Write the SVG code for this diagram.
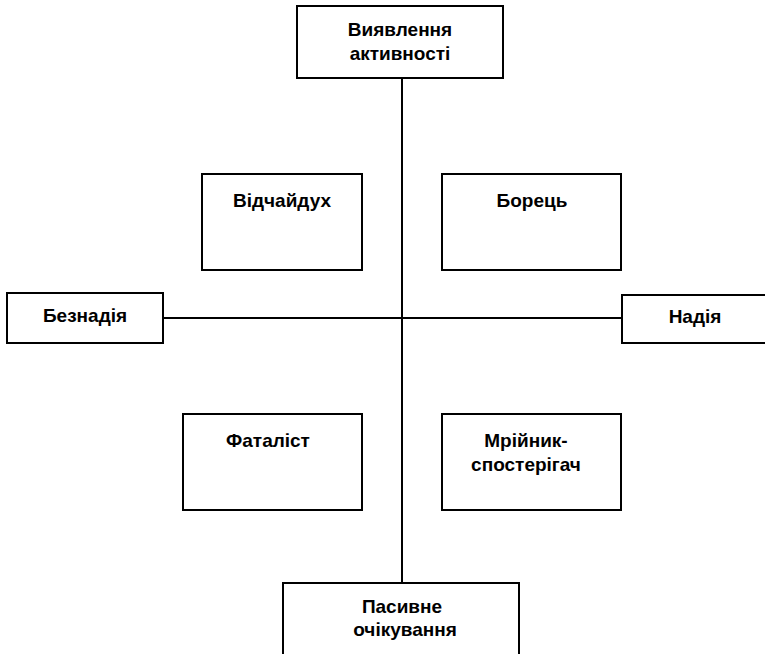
<svg xmlns="http://www.w3.org/2000/svg" width="765" height="654" viewBox="0 0 765 654">
<style>
.box{fill:#fff;stroke:#000;stroke-width:2}
.ln{stroke:#000;stroke-width:2;fill:none}
text{font-family:"Liberation Sans","DejaVu Sans",sans-serif;font-weight:bold;font-size:19px;fill:#000;text-anchor:middle}
</style>
<rect width="765" height="654" fill="#fff"/>
<g id="connectors">
<line class="ln" x1="402" y1="78" x2="402" y2="583"/>
<line class="ln" x1="163" y1="318" x2="622" y2="318"/>
</g>
<g id="n-activity">
<rect class="box" x="297" y="6" width="206" height="72"/>
<text x="400" y="35.5">Виявлення</text>
<text x="400" y="59.5">активності</text>
</g>
<g id="n-hopeless">
<rect class="box" x="7" y="293" width="156" height="50"/>
<text x="85" y="322">Безнадія</text>
</g>
<g id="n-hope">
<rect class="box" x="622" y="295" width="160" height="48"/>
<text x="695" y="323">Надія</text>
</g>
<g id="n-desperado">
<rect class="box" x="202" y="174" width="160" height="96"/>
<text x="282" y="207">Відчайдух</text>
</g>
<g id="n-fighter">
<rect class="box" x="442" y="174" width="179" height="96"/>
<text x="532" y="207">Борець</text>
</g>
<g id="n-fatalist">
<rect class="box" x="183" y="414" width="179" height="96"/>
<text x="268" y="447">Фаталіст</text>
</g>
<g id="n-dreamer">
<rect class="box" x="442" y="414" width="179" height="96"/>
<text x="526" y="447">Мрійник-</text>
<text x="526" y="471">спостерігач</text>
</g>
<g id="n-passive">
<rect class="box" x="283" y="583" width="236" height="80"/>
<text x="402" y="613">Пасивне</text>
<text x="405" y="636">очікування</text>
</g>
</svg>
